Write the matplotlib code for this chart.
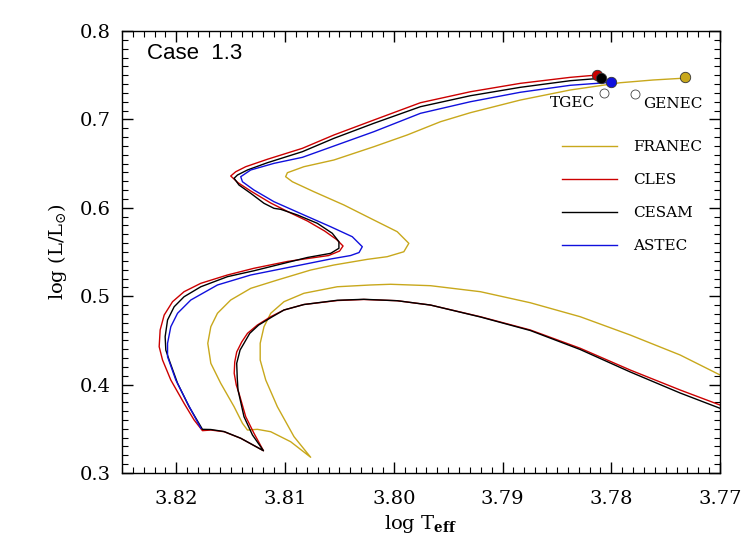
import numpy as np
import matplotlib
matplotlib.use('Agg')
import matplotlib.pyplot as plt
from matplotlib.ticker import MultipleLocator, FormatStrFormatter

plt.rcParams['font.family'] = 'DejaVu Serif'
plt.rcParams['mathtext.fontset'] = 'dejavuserif'

# evolutionary tracks (log Teff, log L/Lsun)
cles_teff = [3.7700, 3.77367, 3.77826, 3.78286, 3.78745, 3.79204, 3.79663, 3.79969, 3.80276, 3.80520,
             3.80827, 3.81010, 3.81132, 3.81255, 3.81346, 3.81399, 3.81445, 3.81463, 3.81468, 3.81449,
             3.81424, 3.81362, 3.81286, 3.81199,
             3.81408, 3.81561, 3.81683, 3.81760,
             3.81837, 3.81929, 3.82051, 3.82127, 3.82158, 3.82149, 3.82112, 3.82035, 3.81929, 3.81775,
             3.81530, 3.81286, 3.80979, 3.80857, 3.80600, 3.80499, 3.80467, 3.80526, 3.80637, 3.80795,
             3.80949, 3.81132, 3.81316, 3.81435, 3.81500, 3.81454, 3.81362, 3.81163, 3.80841, 3.80551,
             3.80184, 3.79755, 3.79296, 3.78837, 3.78377, 3.78132]
cles_lum = [0.3769, 0.3939, 0.4165, 0.4411, 0.4618, 0.4768, 0.4900, 0.4949, 0.4963, 0.4951,
            0.4906, 0.4844, 0.4768, 0.4674, 0.4580, 0.4482, 0.4369, 0.4256, 0.4128, 0.3996,
            0.3902, 0.3637, 0.3449, 0.3252,
            0.3393, 0.3467, 0.3486, 0.3479,
            0.3600, 0.3788, 0.4052, 0.4278, 0.4429, 0.4618, 0.4787, 0.4938, 0.5051, 0.5146,
            0.5240, 0.5316, 0.5393, 0.5415, 0.5460, 0.5511, 0.5568, 0.5641, 0.5738, 0.5851,
            0.5941, 0.6054, 0.6190, 0.6286, 0.6360, 0.6408, 0.6465, 0.6549, 0.6673, 0.6824,
            0.6993, 0.7189, 0.7313, 0.7408, 0.7476, 0.7502]

cesam_teff = [3.7700, 3.77367, 3.77826, 3.78286, 3.78745, 3.79204, 3.79663, 3.79969, 3.80276, 3.80520,
              3.80827, 3.81010, 3.81117, 3.81243, 3.81325, 3.81378, 3.81414, 3.81445, 3.81440, 3.81433,
              3.81378, 3.81300, 3.81199,
              3.81408, 3.81561, 3.81683, 3.81760,
              3.81883, 3.81989, 3.82066, 3.82097, 3.82103, 3.82081, 3.82020, 3.81929, 3.81775, 3.81530,
              3.81286, 3.80795, 3.80581, 3.80505, 3.80505, 3.80566, 3.80704, 3.80887, 3.81041, 3.81102,
              3.81194, 3.81316, 3.81424, 3.81469, 3.81438, 3.81346, 3.81163, 3.80841, 3.80551, 3.80184,
              3.79755, 3.79296, 3.78837, 3.78377, 3.78102]
cesam_lum = [0.3732, 0.3905, 0.4143, 0.4397, 0.4612, 0.4765, 0.4900, 0.4949, 0.4965, 0.4954,
             0.4906, 0.4844, 0.4768, 0.4674, 0.4580, 0.4467, 0.4391, 0.4241, 0.4075, 0.3939,
             0.3637, 0.3430, 0.3252,
             0.3393, 0.3469, 0.3492, 0.3494,
             0.3750, 0.4015, 0.4278, 0.4391, 0.4542, 0.4731, 0.4881, 0.4994, 0.5107, 0.5221,
             0.5288, 0.5438, 0.5485, 0.5542, 0.5617, 0.5712, 0.5825, 0.5919, 0.5983, 0.5994,
             0.6051, 0.6164, 0.6258, 0.6334, 0.6371, 0.6428, 0.6510, 0.6635, 0.6786, 0.6956,
             0.7144, 0.7268, 0.7363, 0.7438, 0.7465]

astec_teff = [3.81775, 3.81897, 3.82005, 3.82081, 3.82081, 3.82051, 3.81989, 3.81867, 3.81622, 3.81316,
              3.80857, 3.80581, 3.80398, 3.80320, 3.80290, 3.80382, 3.80581, 3.80827, 3.81102, 3.81286,
              3.81392, 3.81408, 3.81316, 3.81102, 3.80841, 3.80551, 3.80184, 3.79755, 3.79296, 3.78837,
              3.78377, 3.78001]
astec_lum = [0.3506, 0.3788, 0.4052, 0.4316, 0.4467, 0.4655, 0.4807, 0.4957, 0.5127, 0.5240,
             0.5353, 0.5421, 0.5460, 0.5494, 0.5560, 0.5673, 0.5786, 0.5919, 0.6069, 0.6201,
             0.6295, 0.6352, 0.6428, 0.6503, 0.6571, 0.6699, 0.6861, 0.7069, 0.7200, 0.7307,
             0.7386, 0.7420]

franec_teff = [3.7700, 3.77367, 3.77826, 3.78286, 3.78745, 3.79204, 3.79663, 3.80030, 3.80214, 3.80520,
               3.80827, 3.81010, 3.81132, 3.81194, 3.81229, 3.81229, 3.81178, 3.81071, 3.80918, 3.80765,
               3.80949, 3.81132, 3.81255, 3.81346,
               3.81392, 3.81469, 3.81592, 3.81683, 3.81711, 3.81683, 3.81622, 3.81500, 3.81316, 3.81071,
               3.80765, 3.80551, 3.80244, 3.80061, 3.79908, 3.79862, 3.79969, 3.80184, 3.80459, 3.80735,
               3.80933, 3.80995, 3.80979, 3.80827, 3.80551, 3.80184, 3.79877, 3.79571, 3.79296, 3.78837,
               3.78377, 3.77918, 3.77615, 3.77312]
franec_lum = [0.4109, 0.4335, 0.4561, 0.4768, 0.4926, 0.5051, 0.5119, 0.5135, 0.5127, 0.5107,
              0.5033, 0.4938, 0.4807, 0.4655, 0.4467, 0.4278, 0.4052, 0.3750, 0.3411, 0.3178,
              0.3354, 0.3467, 0.3494, 0.3486,
              0.3562, 0.3750, 0.4015, 0.4241, 0.4467, 0.4655, 0.4807, 0.4957, 0.5089, 0.5183,
              0.5296, 0.5353, 0.5417, 0.5447, 0.5503, 0.5598, 0.5730, 0.5862, 0.6032, 0.6182,
              0.6295, 0.6352, 0.6397, 0.6465, 0.6541, 0.6691, 0.6824, 0.6974, 0.7076, 0.7219,
              0.7333, 0.7415, 0.7446, 0.7468]

# end points of the tracks
end_teff = [3.7732, 3.78132, 3.78095, 3.78001]
end_lum = [0.7475, 0.7502, 0.7465, 0.7420]
# TGEC, GENEC (open circles)
open_teff = [3.7807, 3.7778]
open_lum = [0.7301, 0.7287]

col_franec = '#c8a81c'
col_cles = '#cc0000'
col_cesam = 'black'
col_astec = '#1010dd'

fig = plt.figure(figsize=(7.47, 5.5), dpi=100)
ax = fig.add_axes([0.1633, 0.14, 0.8006, 0.8036])

lw = 1.0
ax.plot(franec_teff, franec_lum, color=col_franec, lw=lw, label='FRANEC')
ax.plot(cles_teff, cles_lum, color=col_cles, lw=lw, label='CLES')
ax.plot(cesam_teff, cesam_lum, color=col_cesam, lw=lw, label='CESAM')
ax.plot(astec_teff, astec_lum, color=col_astec, lw=lw, label='ASTEC')

ends_col = [col_franec, col_cles, col_cesam, col_astec]
for t, l, c in zip(end_teff, end_lum, ends_col):
    ax.plot(t, l, 'o', ms=7.5, mfc=c, mec='#333333', mew=0.6, zorder=5)
ax.plot(open_teff, open_lum, 'o', ms=6.5, mfc='white', mec='#444444', mew=0.6, ls='none', zorder=5)

ax.text(3.78359, 0.7190, 'TGEC', ha='center', va='center', fontsize=11)
ax.text(3.7743, 0.7173, 'GENEC', ha='center', va='center', fontsize=11)
ax.text(0.042, 0.9367, 'Case  1.3', transform=ax.transAxes, fontsize=16,
        family='Liberation Sans', va='baseline')

ax.set_xlim(3.825, 3.77)
ax.set_ylim(0.3, 0.8)
ax.xaxis.set_major_locator(MultipleLocator(0.01))
ax.xaxis.set_minor_locator(MultipleLocator(0.001))
ax.yaxis.set_major_locator(MultipleLocator(0.1))
ax.yaxis.set_minor_locator(MultipleLocator(0.01))
ax.xaxis.set_major_formatter(FormatStrFormatter('%.2f'))
ax.yaxis.set_major_formatter(FormatStrFormatter('%.1f'))
ax.tick_params(which='both', direction='in', top=True, right=True, labelsize=14)
ax.tick_params(axis='x', which='major', length=8, width=1, pad=12)
ax.tick_params(axis='y', which='major', length=8, width=1, pad=8)
ax.tick_params(which='minor', length=4, width=0.8)
for s in ax.spines.values():
    s.set_linewidth(1.0)

ax.set_xlabel(r'log T$_{\mathbf{eff}}$', fontsize=14, labelpad=4)
ax.set_ylabel(r'log (L/L$_{\odot}$)', fontsize=14, labelpad=8)

ax.legend(loc='upper left', bbox_to_anchor=(0.736, 0.753), frameon=False, fontsize=11,
          handlelength=3.6, handletextpad=1.05, labelspacing=1.25, borderpad=0, borderaxespad=0)

fig.savefig('out.png', dpi=100)
